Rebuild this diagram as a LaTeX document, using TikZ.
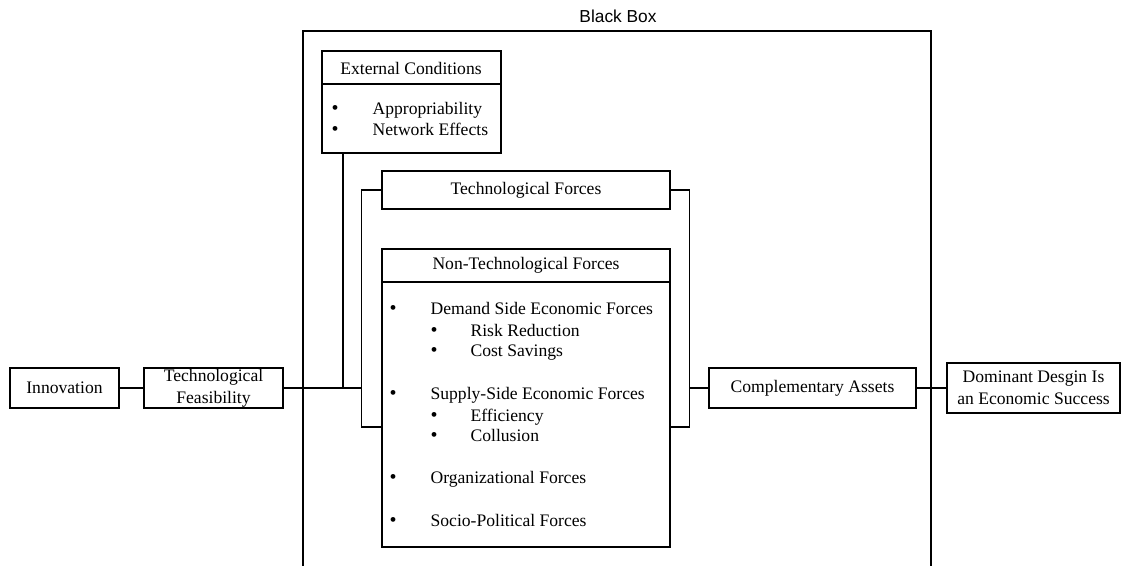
\documentclass[tikz,border=0pt]{standalone}
\usepackage{fontspec}
\setmainfont{Liberation Serif}
\newfontfamily\labelsans{Liberation Sans}
\usetikzlibrary{fit}
\newcommand{\bodyfont}{\fontsize{13.2}{16.2}\selectfont}
\begin{document}
\begin{tikzpicture}[x=0.75pt,y=-0.75pt,line width=0.9pt,
  box/.style={draw,inner sep=0pt},
  boxtext/.style={inner sep=0pt,align=center,font=\bodyfont},
  entry/.style={anchor=base west,inner sep=0pt,font=\bodyfont},
  dot/.style={anchor=base,inner sep=0pt,font=\fontsize{15}{15}\selectfont},
  head/.style={inner sep=0pt,font=\bodyfont}]
\useasboundingbox (0,0) rectangle (1121,565);

% outer frame
\draw (303,580) -- (303,31) -- (931,31) -- (931,580);
\node[inner sep=0pt,font=\labelsans\fontsize{13}{15}\selectfont] (bbl) at (618,16) {Black Box};

% left chain
\node[box,fit={(10,368) (119,408)}] (inno) {};
\node[boxtext] at (inno.center) {Innovation};
\node[box,fit={(144,368) (283,408)}] (feas) {};
\node[boxtext] at (feas.center) {Technological\\Feasibility};

% external conditions
\node[box,fit={(322,51) (501,153)}] (ext) {};
\draw (322,84) -- (501,84);
\node[head] (exth) at (411,68) {External Conditions};
\node[dot] at (335,114) {•};
\node[entry] (e1) at (372,114) {Appropriability};
\node[dot] at (335,135) {•};
\node[entry] (e2) at (372,135) {Network Effects};

% technological forces
\node[box,fit={(382,171) (670,209)}] (tech) {};
\node[boxtext] at (tech.center) {Technological Forces};

% non-technological forces
\node[box,fit={(382,249) (670,547)}] (ntech) {};
\draw (382,282) -- (670,282);
\node[head] (nth) at (526,265) {Non-Technological Forces};
\foreach \y/\t in {314/Demand Side Economic Forces,399/Supply-Side Economic Forces,483/Organizational Forces,526/Socio-Political Forces}{
  \node[dot] at (393,\y) {•};
  \node[entry] at (430,\y) {\t};
}
\foreach \y/\t in {336/Risk Reduction,356/Cost Savings,421/Efficiency,441/Collusion}{
  \node[dot] at (434,\y) {•};
  \node[entry] at (470,\y) {\t};
}

% right chain
\node[box,fit={(709,368) (916,408)}] (comp) {};
\node[boxtext] at (comp.center) {Complementary Assets};
\node[box,fit={(947,363) (1120,413)}] (dom) {};
\node[boxtext] at (dom.center) {Dominant Desgin Is\\an Economic Success};

% connection points
\coordinate (extfoot) at (343,153);
\coordinate (lj) at (343,388);
\coordinate (lbar) at (362,388);
\coordinate (ntl) at (382,427);
\coordinate (ntr) at (670,427);
\coordinate (rbar) at (689,388);

% connectors
\draw (inno.east) -- (feas.west);
\draw (feas.east) -- (lbar);
\draw (lj) -- (extfoot);
\draw (tech.west) -- ++(-20,0) |- (ntl);
\draw (tech.east) -- ++(19,0) |- (ntr);
\draw (rbar) -- (comp.west);
\draw (comp.east) -- (dom.west);
\end{tikzpicture}
\end{document}
